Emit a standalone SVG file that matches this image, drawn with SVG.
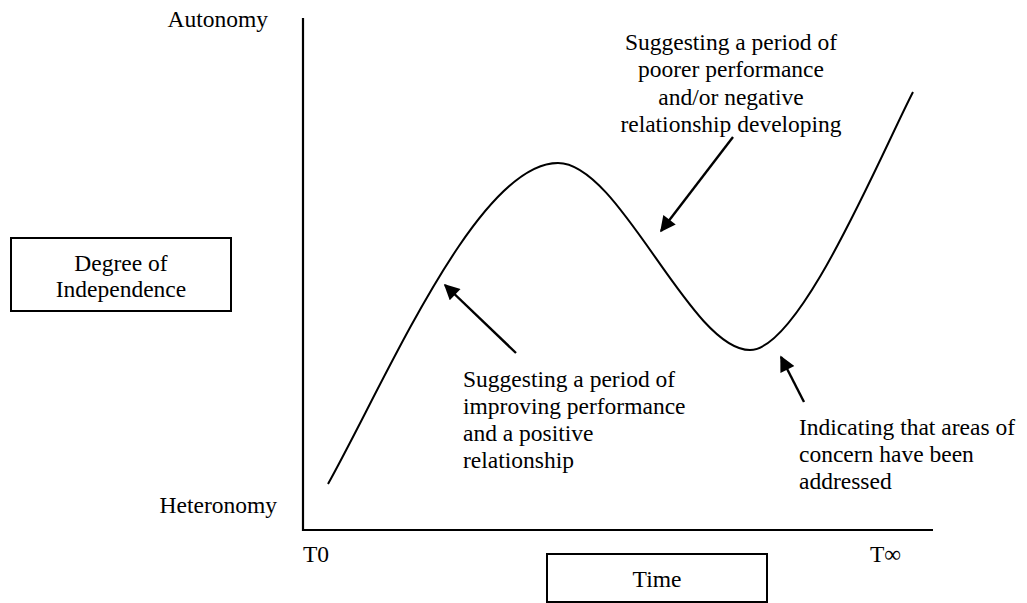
<svg xmlns="http://www.w3.org/2000/svg" width="1027" height="603" viewBox="0 0 1027 603">
  <style>
    text { font-family: 'Liberation Serif', Tinos, 'Times New Roman', 'DejaVu Serif', serif; font-size: 23.5px; fill: #000; }
    .mid { text-anchor: middle; }
    .box { fill: #fff; stroke: #000; stroke-width: 2; }
    .axis { fill: none; stroke: #000; stroke-width: 2.2; }
    .curve { fill: none; stroke: #000; stroke-width: 2; }
    .arrow { fill: none; stroke: #000; stroke-width: 2.4; marker-end: url(#head); }
  </style>
  <defs>
    <marker id="head" viewBox="0 0 10 10" refX="9" refY="5" markerWidth="7.5" markerHeight="6.5" orient="auto" markerUnits="strokeWidth">
      <path d="M0,0 L10,5 L0,10 Z" fill="#000"/>
    </marker>
  </defs>

  <!-- axes -->
  <g id="axes">
    <path class="axis" d="M303,18 L303,530 L933,530"/>
    <text font-family="Liberation Serif, serif" x="268" y="27" text-anchor="end">Autonomy</text>
    <text font-family="Liberation Serif, serif" x="277" y="513" text-anchor="end">Heteronomy</text>
    <text font-family="Liberation Serif, serif" x="303" y="562">T0</text>
    <text font-family="Liberation Serif, serif" x="870" y="562">T∞</text>
  </g>

  <!-- y-axis title -->
  <g id="degree-box">
    <rect class="box" x="11" y="238" width="220" height="73"/>
    <text class="mid" x="121" y="271">Degree of</text>
    <text class="mid" x="121" y="297">Independence</text>
  </g>

  <!-- x-axis title -->
  <g id="time-box">
    <rect class="box" x="547" y="554" width="220" height="48"/>
    <text class="mid" x="657" y="587">Time</text>
  </g>

  <!-- independence over time -->
  <g id="trend">
    <path class="curve" d="M328,484 C388,376 478,163 558,163 C620,163 690,350 750,350 C800,350 880,156 913,92"/>
  </g>

  <g id="note-improving">
    <text x="463" y="387">Suggesting a period of</text>
    <text x="463" y="414">improving performance</text>
    <text x="463" y="441">and a positive</text>
    <text x="463" y="468">relationship</text>
  </g>

  <g id="note-poorer">
    <text class="mid" x="731" y="50">Suggesting a period of</text>
    <text class="mid" x="731" y="77">poorer performance</text>
    <text class="mid" x="731" y="105">and/or negative</text>
    <text class="mid" x="731" y="132">relationship developing</text>
  </g>

  <g id="note-concern">
    <text x="799" y="435">Indicating that areas of</text>
    <text x="799" y="462">concern have been</text>
    <text x="799" y="489">addressed</text>
  </g>

  <!-- pointers from notes to the curve -->
  <g id="connectors">
    <line class="arrow" x1="516" y1="353" x2="445" y2="285"/>
    <line class="arrow" x1="733" y1="137" x2="661" y2="231"/>
    <line class="arrow" x1="804" y1="402" x2="781" y2="357"/>
  </g>
</svg>
